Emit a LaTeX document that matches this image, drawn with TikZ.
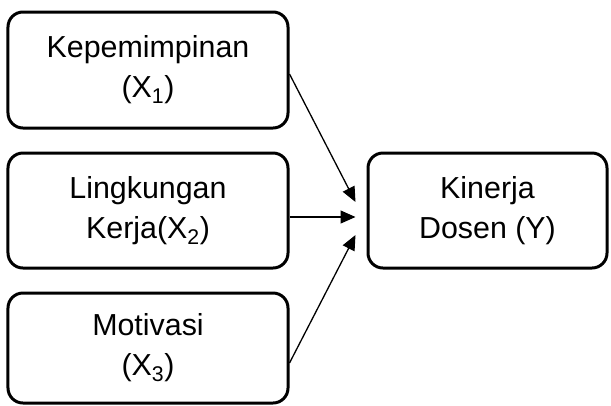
\documentclass[tikz,border=0pt]{standalone}
\usepackage{fontspec}
\setmainfont{Liberation Sans}
\usetikzlibrary{arrows.meta,calc}
\begin{document}
\begin{tikzpicture}[x=1bp,y=-1bp,
  varbox/.style={draw, line width=3bp, rounded corners=15bp, align=center,
    inner sep=0pt, font=\fontsize{30.5}{40}\selectfont},
  link/.style={-{Triangle[length=15bp,width=13bp]}, line width=1.3bp}]
\useasboundingbox (0,0) rectangle (611,405);
\node[varbox, minimum width=280bp, minimum height=116bp] (b1) at (148,70) {Kepemimpinan\\(X\textsubscript{1})};
\node[varbox, minimum width=280bp, minimum height=115bp] (b2) at (148,210.5) {Lingkungan\\Kerja(X\textsubscript{2})};
\node[varbox, minimum width=280bp, minimum height=110bp] (b3) at (148,348) {Motivasi\\(X\textsubscript{3})};
\node[varbox, minimum width=239bp, minimum height=115bp] (y) at (487.5,210.5) {Kinerja\\Dosen (Y)};
\coordinate (s1) at ($(b1.east)+(0,4)$);
\coordinate (s2) at ($(b2.east)+(0,6.5)$);
\coordinate (s3) at ($(b3.east)+(0,15)$);
\coordinate (t1) at ($(y.west)+(-11,-8.5)$);
\coordinate (t2) at ($(y.west)+(-11,6.5)$);
\coordinate (t3) at ($(y.west)+(-11,24.5)$);
\draw[link] (s1) -- (t1);
\draw[link] (s2) -- (t2);
\draw[link] (s3) -- (t3);
\end{tikzpicture}
\end{document}
